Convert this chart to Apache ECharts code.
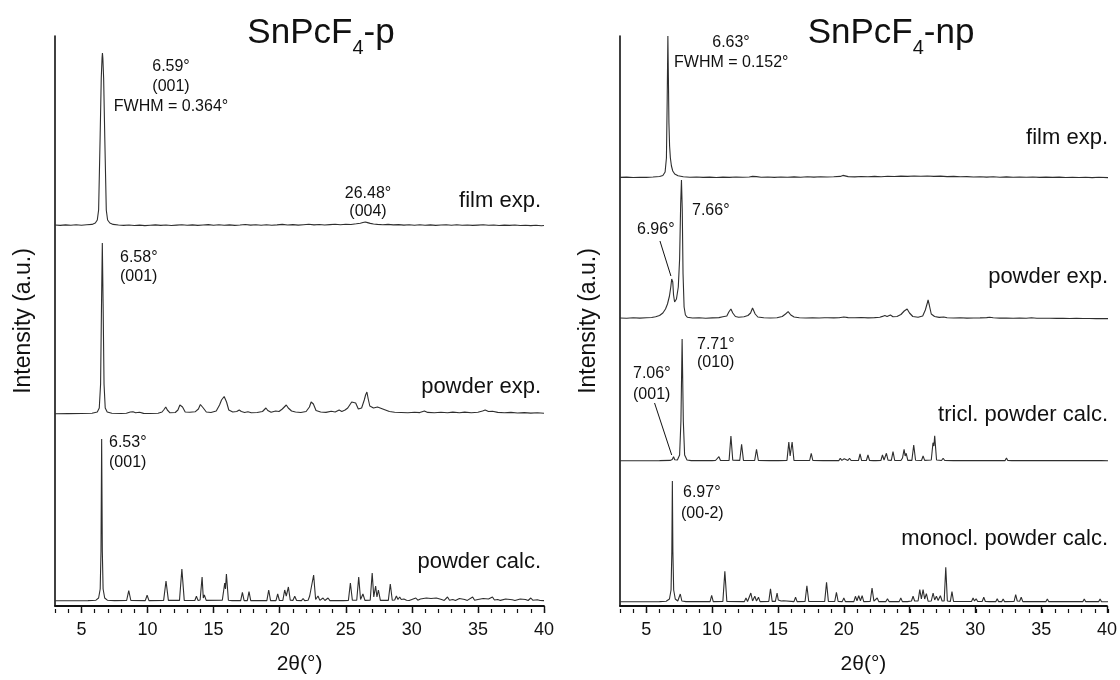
<!DOCTYPE html>
<html>
<head>
<meta charset="utf-8">
<title>SnPcF4 XRD</title>
<script src="https://cdn.jsdelivr.net/npm/echarts@6/dist/echarts.min.js"></script>
<style>
  html, body { margin: 0; padding: 0; background: #fff; }
  #chart { width: 1120px; height: 680px; }
</style>
</head>
<body>
<div id="chart"></div>
<script>
// ---- axis ticks (2θ in degrees) ----
const xMin = 3, xMax = 40;
const majorTicks = [5, 10, 15, 20, 25, 30, 35, 40];
const minorStep = 1;

// ---- SnPcF4-p patterns: [2θ (°), intensity (a.u.)] ----
const pFilmExp = [
  [3.0,1.0],[3.4,0.6],[3.8,1.1],[4.2,0.7],[4.6,1.2],[5.0,0.8],[5.4,1.3],[5.8,1.6],[6.05,3],[6.2,6],
  [6.3,16],[6.41,86],[6.5,148],[6.56,168],[6.59,173],[6.62,168],[6.68,148],[6.77,86],[6.88,16],[6.98,6],
  [7.15,3],[7.4,1.6],[7.8,1.0],[8.2,0.6],[8.6,1.0],[9.0,0.5],[9.4,0.9],[9.8,0.4],[10.2,0.8],[10.6,1.1],
  [11.0,0.6],[11.4,1.0],[11.8,0.5],[12.2,0.9],[12.6,1.3],[13.0,0.7],[13.4,1.1],[13.8,0.6],[14.2,1.0],[14.6,1.4],
  [15.0,0.8],[15.4,1.2],[15.8,0.7],[16.2,1.1],[16.6,0.6],[17.0,1.0],[17.4,1.5],[17.8,0.9],[18.2,1.3],[18.6,0.8],
  [19.0,1.2],[19.4,0.7],[19.8,1.1],[20.2,1.6],[20.6,1.0],[21.0,1.4],[21.4,0.9],[21.8,1.3],[22.2,1.7],[22.6,1.1],
  [23.0,1.5],[23.4,1.0],[23.8,1.4],[24.2,1.8],[24.6,1.3],[25.0,1.7],[25.4,1.5],[25.8,2.2],[26.1,2.8],[26.3,3.5],
  [26.48,4.0],[26.65,3.4],[26.85,2.6],[27.1,2.0],[27.4,1.6],[27.8,1.2],[28.2,1.6],[28.6,1.1],[29.0,1.4],[29.4,0.9],
  [29.8,1.3],[30.2,0.8],[30.6,1.2],[31.0,0.7],[31.4,1.1],[31.8,0.6],[32.2,1.0],[32.6,1.3],[33.0,0.8],[33.4,1.2],
  [33.8,0.7],[34.2,1.0],[34.6,0.6],[35.0,0.9],[35.4,1.2],[35.8,0.7],[36.2,1.0],[36.6,0.5],[37.0,0.9],[37.4,0.6],
  [37.8,1.0],[38.2,0.5],[38.6,0.8],[39.0,0.4],[39.4,0.7],[39.8,0.3],[40.0,0.5]
];

const pPowderExp = [
  [3.0,0.3],[4.0,0.4],[5.0,0.5],[5.8,0.8],[6.2,2],[6.35,6],[6.45,30],[6.52,110],[6.58,171],[6.64,110],
  [6.71,30],[6.8,6],[6.95,2],[7.3,0.8],[8.0,0.5],[8.4,0.8],[8.7,2.0],[8.9,2.3],[9.1,1.2],[9.4,1.8],
  [9.7,0.6],[10.2,0.5],[10.8,0.8],[11.1,2],[11.25,4.5],[11.38,7],[11.5,4],[11.7,1.2],[12.1,1.5],[12.3,4],
  [12.45,9],[12.55,11],[12.65,7],[12.85,2],[13.2,1.8],[13.6,2.2],[13.85,5],[14.0,9.5],[14.1,11],[14.22,6],
  [14.45,2],[14.8,1.5],[15.2,3],[15.45,9],[15.6,14],[15.7,13],[15.8,17.5],[15.88,19],[15.98,12],[16.15,4],
  [16.45,2],[16.75,2.5],[16.94,4],[17.1,2.5],[17.35,1.5],[17.6,2.2],[17.85,1.2],[18.3,1.5],[18.7,2.5],[18.85,4.5],
  [18.96,6],[19.1,3.5],[19.35,1.8],[19.7,3],[19.95,2.5],[20.2,5],[20.35,6.5],[20.5,9],[20.65,6],[20.9,3],
  [21.2,2],[21.6,1.5],[22.0,2.5],[22.25,7],[22.38,12],[22.45,14],[22.55,10],[22.75,3.5],[23.1,2],[23.5,1.6],
  [23.9,2.8],[24.2,2],[24.5,4],[24.7,2.5],[24.95,4],[25.15,6],[25.3,7.5],[25.45,12],[25.6,14],[25.75,11],
  [25.95,5],[26.2,6],[26.4,14],[26.5,19],[26.6,22],[26.7,15],[26.82,8],[26.95,8.5],[27.1,6],[27.25,5.5],
  [27.4,7],[27.55,5],[27.7,5.5],[27.85,7],[28.0,4],[28.3,2.5],[28.7,1.8],[29.2,1.5],[29.7,1.2],[30.2,1.8],
  [30.6,1.4],[30.95,3],[31.2,1.6],[31.7,1.2],[32.2,1.8],[32.7,1.2],[33.1,1.9],[33.6,1.3],[34.0,1.9],[34.5,1.2],
  [35.0,1.8],[35.35,3],[35.55,4],[35.8,2.5],[36.1,2.8],[36.5,1.6],[37.0,1.2],[37.5,1.6],[38.0,1.0],[38.5,1.4],
  [39.0,0.9],[39.5,1.2],[40.0,0.8]
];

const pPowderCalc = [
  [3.0,0.3],[5.5,0.4],[6.1,0.8],[6.3,3],[6.42,12],[6.48,50],[6.53,162],[6.58,50],[6.64,12],[6.76,3],[6.96,0.8],[7.5,0.4],
  [8.42,0.5],[8.58,10.3],[8.74,0.5],[9.83,0.4],[9.97,5.7],[10.11,0.4],
  [11.22,0.6],[11.4,20],[11.58,0.6],[12.42,0.6],[12.6,32],[12.78,0.6],
  [13.58,0.5],[13.7,4.7],[13.82,0.6],[13.98,1],[14.13,24],[14.22,3],[14.3,6],[14.44,0.6],
  [15.66,0.8],[15.8,14],[15.84,18],[15.9,12],[15.97,27],[16.12,0.8],[16.4,0.4],[16.5,1.3],[16.6,0.4],
  [17.05,0.4],[17.18,8.7],[17.31,0.4],[17.55,0.4],[17.68,9.3],[17.81,0.4],[18.4,0.4],[18.5,1],[18.6,0.4],
  [19.03,0.4],[19.17,11],[19.31,0.4],[19.72,0.4],[19.85,7],[19.98,0.5],
  [20.24,0.6],[20.38,11],[20.5,5],[20.66,14],[20.8,0.8],[21.0,0.6],[21.14,4.7],[21.28,0.5],
  [21.65,0.4],[21.77,2.5],[21.89,0.4],[22.15,0.8],[22.27,5],[22.38,3],[22.57,26],[22.72,1.5],[22.9,5],[23.04,0.6],
  [23.15,0.5],[23.28,3],[23.42,0.5],[23.55,0.5],[23.66,3],[23.8,0.4],[24.55,0.4],[24.67,2],[24.8,0.4],
  [25.2,0.6],[25.35,18],[25.5,0.8],[25.83,0.8],[25.98,24],[26.12,1.5],[26.3,7],[26.45,0.6],
  [26.85,0.8],[27.0,28],[27.12,4],[27.26,15],[27.36,4],[27.47,11],[27.62,0.6],
  [28.22,0.6],[28.37,17],[28.52,0.8],[28.7,1],[28.83,5],[28.95,1.5],[29.08,4],[29.2,1.5],[29.4,2],[29.6,0.8],
  [29.8,0.5],[30.0,1.5],[30.15,0.6],[30.3,3],[30.45,0.8],[30.65,2],[30.8,0.7],[31.1,3],[31.25,1],[31.45,2.5],
  [31.6,0.8],[31.85,3],[32.0,1],[32.25,1.5],[32.45,0.6],[32.7,4],[32.85,0.8],[33.1,1.5],[33.3,0.6],[33.6,2.5],
  [33.75,0.7],[34.0,1.5],[34.2,0.6],[34.6,4],[34.75,0.8],[35.0,1.5],[35.15,0.7],[35.4,2.5],[35.55,1],[35.8,2],
  [36.1,4],[36.25,1],[36.5,1.5],[36.7,0.6],[37.1,2],[37.25,0.6],[37.6,1.2],[37.8,0.5],[38.2,2],[38.35,0.6],
  [38.6,1.5],[38.8,0.5],[39.0,3],[39.15,0.8],[39.5,1.2],[39.7,0.5],[40.0,0.4]
];

// ---- SnPcF4-np patterns: [2θ (°), intensity (a.u.)] ----
const npFilmExp = [
  [3.0,0.6],[3.5,0.9],[4.0,0.5],[4.5,0.8],[5.0,0.6],[5.5,1.0],[6.0,1.5],[6.25,2.5],[6.42,6],[6.52,20],
  [6.58,80],[6.63,142],[6.67,100],[6.71,55],[6.76,32],[6.82,20],[6.9,12],[7.0,7],[7.15,4],[7.4,2.2],
  [7.8,1.2],[8.3,0.8],[8.8,1.0],[9.3,0.6],[9.8,0.9],[10.3,0.5],[10.8,0.9],[11.3,0.6],[11.8,1.0],[12.3,0.7],
  [12.8,1.0],[13.05,1.6],[13.2,3],[13.35,1.4],[13.7,0.8],[14.2,1.0],[14.7,0.6],[15.2,1.0],[15.7,0.7],[16.2,1.1],
  [16.7,0.8],[17.2,1.2],[17.7,0.9],[18.2,1.3],[18.7,1.0],[19.2,1.2],[19.7,1.6],[19.9,2.6],[20.05,2.2],[20.3,1.4],
  [20.8,1.1],[21.3,1.5],[21.8,1.2],[22.3,1.6],[22.8,1.3],[23.3,1.7],[23.8,1.5],[24.3,1.9],[24.8,1.6],[25.3,2.0],
  [25.8,1.7],[26.3,2.0],[26.8,1.6],[27.3,1.9],[27.8,1.4],[28.3,1.6],[28.8,1.2],[29.3,1.4],[29.8,1.0],[30.3,1.3],
  [30.8,0.9],[31.3,1.2],[31.8,0.8],[32.3,1.1],[32.8,0.7],[33.3,1.0],[33.8,0.7],[34.3,1.0],[34.8,0.6],[35.3,0.9],
  [35.8,0.6],[36.3,0.9],[36.8,0.5],[37.3,0.8],[37.8,0.5],[38.3,0.8],[38.8,0.4],[39.3,0.7],[40.0,0.4]
];

const npPowderExp = [
  [3.0,1.0],[3.5,0.8],[4.0,1.2],[4.5,0.9],[5.0,1.3],[5.4,1.5],[5.7,2.2],[6.0,3.5],[6.25,6],[6.45,10],
  [6.6,15],[6.75,23],[6.85,32],[6.92,40],[6.96,42],[7.0,37],[7.06,24],[7.14,17],[7.28,20],[7.42,32],
  [7.52,60],[7.6,115],[7.66,139],[7.72,110],[7.78,45],[7.86,12],[7.96,4],[8.1,1.8],[8.5,1.0],[9.0,1.2],
  [9.5,0.8],[10.0,1.1],[10.5,1.4],[10.8,2.2],[10.95,2.8],[11.1,3],[11.25,7],[11.41,10],[11.55,6],[11.75,2.5],
  [12.0,1.8],[12.4,2.2],[12.7,3.5],[12.9,6],[13.05,11],[13.12,12.7],[13.25,5],[13.45,2],[13.9,1.2],[14.4,1.0],
  [14.9,1.3],[15.3,2.5],[15.55,5],[15.75,7.3],[15.95,4],[16.2,2],[16.6,1.3],[17.1,1.0],[17.6,1.2],[18.1,1.0],
  [18.5,1.3],[18.6,2],[18.75,1.2],[19.2,1.1],[19.6,1.3],[19.97,2],[20.3,1.4],[20.8,1.2],[21.3,1.5],[21.8,1.1],
  [22.3,1.4],[22.7,1.8],[22.9,2.6],[23.08,3.5],[23.25,2.5],[23.5,4],[23.7,2.2],[24.0,2.5],[24.3,4.5],[24.55,8],
  [24.77,10],[24.95,6],[25.2,2.5],[25.6,1.8],[25.95,3],[26.15,9],[26.3,16],[26.36,19],[26.45,14],[26.6,5],
  [26.85,2.5],[27.2,1.6],[27.55,2],[27.8,1.2],[28.3,1.0],[28.8,1.2],[29.3,0.9],[29.8,1.0],[30.3,1.1],[30.8,1.4],
  [31.03,1.8],[31.3,1.3],[31.8,0.9],[32.3,1.0],[32.8,0.8],[33.3,0.9],[33.8,0.8],[34.2,1.2],[34.6,0.8],[35.1,0.7],
  [35.6,0.8],[36.1,0.6],[36.6,0.7],[37.1,0.5],[37.6,0.6],[38.1,0.5],[38.6,0.5],[39.1,0.4],[39.6,0.5],[40.0,0.4]
];

const npTriclCalc = [
  [3.0,0.3],[6.0,0.4],[6.8,0.6],[6.96,1.5],[7.06,4.3],[7.15,1.2],[7.35,1],[7.52,6],[7.62,40],[7.71,122],
  [7.8,40],[7.9,6],[8.08,1],[8.4,0.4],
  [9.98,0.4],[10.12,1.7],[10.24,0.5],[10.38,0.5],[10.5,4.3],[10.62,0.5],
  [11.27,0.6],[11.41,25],[11.55,0.7],[12.08,0.6],[12.22,16.7],[12.36,0.6],[13.21,0.5],[13.35,11.7],[13.49,0.5],
  [14.3,0.4],[14.4,1],[14.5,0.4],[14.78,0.4],[14.9,1.7],[15.02,0.4],
  [15.66,0.6],[15.8,19],[15.9,5],[16.05,19],[16.19,0.6],[17.38,0.5],[17.5,7.7],[17.62,0.5],[18.4,0.4],[18.5,1],[18.6,0.4],
  [19.6,0.4],[19.7,2.7],[19.82,0.6],[19.9,0.6],[20.0,2.3],[20.12,0.5],[20.28,0.5],[20.4,2.7],[20.52,0.5],
  [21.08,0.5],[21.2,7],[21.32,0.5],[21.68,0.5],[21.8,6],[21.92,0.5],[22.2,0.4],[22.3,1],[22.4,0.4],
  [22.78,0.5],[22.9,6],[23.02,1],[23.2,7.7],[23.32,0.8],[23.57,0.6],[23.7,9.3],[23.83,0.5],
  [24.3,0.5],[24.42,3],[24.54,11.7],[24.62,5],[24.7,7.7],[24.82,0.6],[25.13,0.6],[25.27,16],[25.41,0.7],
  [25.86,0.5],[25.98,5],[26.1,0.6],[26.6,1],[26.73,18.3],[26.8,15],[26.86,25.3],[27.0,1],
  [27.38,0.5],[27.5,2.7],[27.62,0.5],[28.28,0.4],[28.4,1.7],[28.52,0.4],
  [29.2,0.4],[29.3,1.5],[29.4,0.4],[29.7,0.4],[29.8,1.2],[29.9,0.4],[30.2,0.4],[30.3,1.5],[30.4,0.4],
  [30.8,0.4],[30.9,1.2],[31.0,0.4],[31.2,0.4],[31.3,1.5],[31.4,0.4],[31.7,0.4],[31.8,1.2],[31.9,0.4],
  [32.2,0.4],[32.3,3],[32.4,0.5],[32.7,0.4],[32.8,2],[32.9,0.4],[33.3,0.4],[33.4,1.2],[33.5,0.4],
  [33.9,0.4],[34.0,2],[34.1,0.4],[34.5,0.4],[34.6,1.2],[34.7,0.4],[34.9,0.4],[35.0,1.5],[35.1,0.4],
  [35.6,0.4],[35.7,1],[35.8,0.4],[36.2,0.4],[36.3,1],[36.4,0.4],[36.7,0.4],[36.8,2],[36.9,0.4],
  [37.5,0.4],[37.6,1],[37.7,0.4],[38.2,0.4],[38.3,1.5],[38.4,0.4],[38.9,0.4],[39.0,1],[39.1,0.4],
  [39.3,0.4],[39.4,1],[39.5,0.4],[40.0,0.3]
];

const npMonoclCalc = [
  [3.0,0.3],[6.0,0.4],[6.5,0.8],[6.75,3],[6.87,12],[6.93,50],[6.97,121],[7.01,50],[7.07,12],[7.19,3],
  [7.38,1],[7.45,1],[7.57,8],[7.69,1],[8.0,0.4],
  [9.83,0.4],[9.95,6.7],[10.07,0.4],[10.8,0.6],[10.95,30.7],[11.1,0.6],
  [12.43,0.4],[12.55,4],[12.67,0.5],[12.8,0.5],[12.92,9],[13.05,1],[13.22,5.7],[13.35,1],[13.5,4.7],[13.62,0.4],
  [14.28,0.5],[14.41,13.3],[14.54,0.6],[14.78,0.6],[14.91,9],[15.0,2],[15.1,4],[15.22,1],[15.4,1.3],[15.52,0.4],
  [16.19,0.4],[16.31,4.7],[16.43,0.4],[17.03,0.5],[17.17,16.3],[17.31,0.5],
  [18.52,0.6],[18.66,19.7],[18.8,0.6],[19.28,0.5],[19.41,9.7],[19.54,0.5],[19.85,0.4],[19.97,4],[20.09,0.4],
  [20.73,0.4],[20.85,5.7],[20.97,1.2],[21.1,6.3],[21.23,1.2],[21.36,6.3],[21.48,0.4],
  [21.97,0.5],[22.11,14],[22.25,0.8],[22.5,4],[22.62,0.4],[23.16,0.4],[23.28,3.3],[23.4,0.4],
  [24.17,0.4],[24.29,4],[24.41,0.4],[24.8,0.4],[25.1,1],[25.22,5.7],[25.34,1],[25.6,1],[25.73,12.3],[25.85,3],
  [25.98,12.3],[26.1,3],[26.23,8.3],[26.36,0.8],[26.6,1],[26.74,9],[26.86,2],[26.99,5.7],[27.12,1.5],[27.29,6.3],
  [27.42,1],[27.58,1],[27.7,34.7],[27.82,1],[28.05,0.6],[28.17,10.3],[28.29,0.5],
  [29.65,0.5],[29.77,4],[29.88,1],[30.0,3.3],[30.12,0.5],[30.46,0.5],[30.58,4.7],[30.7,0.5],
  [31.0,0.4],[31.1,2.3],[31.2,0.4],[31.5,0.4],[31.6,3.3],[31.7,0.4],[31.95,0.4],[32.05,3],[32.15,0.4],
  [32.88,0.5],[33.0,7.3],[33.12,1],[33.3,0.8],[33.42,4.7],[33.54,0.4],[34.07,0.4],[34.17,2.3],[34.27,0.4],
  [34.7,0.4],[34.8,2.3],[34.9,0.4],[35.3,0.4],[35.4,3],[35.5,0.4],[36.35,0.4],[36.45,2.3],[36.55,0.4],
  [36.85,0.4],[36.95,2.3],[37.05,0.4],[37.6,0.4],[37.7,2.3],[37.8,0.4],[38.1,0.4],[38.2,3],[38.3,0.4],
  [38.6,0.4],[38.7,2.3],[38.8,0.4],[39.3,0.4],[39.4,3],[39.5,0.4],[40.0,0.3]
];

// ---- layout ----
const FONT = '"Liberation Sans", Arial, Helvetica, sans-serif';
const INK = '#111';
const LINE = '#2e2e2e';
const panels = [
  { left: 55, width: 489 },   // SnPcF4-p
  { left: 620, width: 488 }   // SnPcF4-np
];
const frameTop = 36, frameBottom = 609;

// each trace sits in its own strip: top = apex row, base = zero-intensity row
const traces = [
  { panel: 0, data: pFilmExp,     top: 53,  base: 226, peak: 173 },
  { panel: 0, data: pPowderExp,   top: 243, base: 414, peak: 171 },
  { panel: 0, data: pPowderCalc,  top: 439, base: 601, peak: 162 },
  { panel: 1, data: npFilmExp,    top: 36,  base: 178, peak: 142 },
  { panel: 1, data: npPowderExp,  top: 180, base: 319, peak: 139 },
  { panel: 1, data: npTriclCalc,  top: 339, base: 461, peak: 122 },
  { panel: 1, data: npMonoclCalc, top: 481, base: 602, peak: 121 }
];

const grid = [], xAxis = [], yAxis = [], series = [];

// frame grids: short ticks at every degree underneath, long ticks + labels every 5°
panels.forEach(p => {
  // short ticks every degree
  grid.push({ left: p.left, width: p.width, top: frameTop, height: frameBottom - frameTop });
  xAxis.push({
    type: 'value', gridIndex: grid.length - 1, min: xMin, max: xMax, interval: minorStep,
    axisLine: { show: false, onZero: false },
    axisTick: { show: true, inside: false, length: 4, lineStyle: { color: INK, width: 1.2 } },
    axisLabel: { show: false },
    splitLine: { show: false }
  });
  yAxis.push({ type: 'value', gridIndex: grid.length - 1, min: 0, max: 1, show: false });

  // axis lines, long ticks, labels and names
  grid.push({ left: p.left, width: p.width, top: frameTop, height: frameBottom - frameTop });
  xAxis.push({
    type: 'value', gridIndex: grid.length - 1, min: xMin, max: xMax,
    name: '2θ(°)', nameLocation: 'middle', nameGap: 48,
    nameTextStyle: { fontSize: 21, color: INK, fontFamily: FONT },
    axisLine: { show: true, onZero: false, lineStyle: { color: INK, width: 1.8 } },
    axisTick: { show: true, inside: false, length: 7, customValues: majorTicks, lineStyle: { color: INK, width: 1.4 } },
    axisLabel: { show: true, customValues: majorTicks, margin: 15, fontSize: 18, color: INK, fontFamily: FONT },
    splitLine: { show: false }
  });
  yAxis.push({
    type: 'value', gridIndex: grid.length - 1, min: 0, max: 1,
    name: 'Intensity (a.u.)', nameLocation: 'middle', nameGap: 20, nameRotate: 90,
    nameTextStyle: { fontSize: 23, color: INK, fontFamily: FONT },
    axisLine: { show: true, onZero: false, lineStyle: { color: INK, width: 1.6 } },
    axisTick: { show: false }, axisLabel: { show: false }, splitLine: { show: false }
  });
});

traces.forEach(t => {
  const p = panels[t.panel];
  grid.push({ left: p.left, width: p.width, top: t.top, height: t.base - t.top });
  const gi = grid.length - 1;
  xAxis.push({ type: 'value', gridIndex: gi, min: xMin, max: xMax, show: false });
  yAxis.push({ type: 'value', gridIndex: gi, min: 0, max: t.peak, show: false });
  t.index = series.length;
  series.push({
    type: 'line', xAxisIndex: gi, yAxisIndex: gi, data: t.data,
    showSymbol: false, symbol: 'none', clip: false, silent: true,
    lineStyle: { color: LINE, width: 1.1 }
  });
});

// arrows pointing at the weak low-angle reflections
function arrow(from, to) {
  return {
    silent: true, symbol: ['none', 'arrow'], symbolSize: [0, 11],
    label: { show: false },
    lineStyle: { color: INK, width: 1, type: 'solid' },
    data: [[{ coord: from }, { coord: to }]]
  };
}
series[traces[4].index].markLine = arrow([6.03, 78], [6.86, 43]);
series[traces[5].index].markLine = arrow([5.62, 58], [6.92, 6]);

// ---- text ----
function txt(text, x, y, align, size) {
  return {
    type: 'text', x: x, y: y, silent: true,
    style: {
      text: text, fill: INK, font: size + 'px ' + FONT,
      textAlign: align, textVerticalAlign: 'middle', align: align, verticalAlign: 'middle'
    }
  };
}

const measureCtx = document.createElement('canvas').getContext('2d');
function textWidth(s, size) {
  measureCtx.font = size + 'px ' + FONT;
  return measureCtx.measureText(s).width;
}
// chemical formula with a subscript digit, centred on cx
function formula(main, sub, tail, cx, cy) {
  const big = 35, small = 20;
  const w1 = textWidth(main, big), w2 = textWidth(sub, small), w3 = textWidth(tail, big);
  const x0 = cx - (w1 + w2 + w3) / 2;
  return [
    txt(main, x0, cy, 'left', big),
    txt(sub, x0 + w1, cy + 15, 'left', small),
    txt(tail, x0 + w1 + w2, cy, 'left', big)
  ];
}

const graphic = [].concat(
  formula('SnPcF', '4', '-p', 321, 33),
  formula('SnPcF', '4', '-np', 891, 33),
  [
    // SnPcF4-p
    txt('6.59°', 171, 67, 'center', 16),
    txt('(001)', 171, 87, 'center', 16),
    txt('FWHM = 0.364°', 171, 107, 'center', 16),
    txt('26.48°', 368, 194, 'center', 16),
    txt('(004)', 368, 212, 'center', 16),
    txt('film exp.', 541, 201, 'right', 22),
    txt('6.58°', 120, 258, 'left', 16),
    txt('(001)', 120, 277, 'left', 16),
    txt('powder exp.', 541, 387, 'right', 22),
    txt('6.53°', 109, 443, 'left', 16),
    txt('(001)', 109, 463, 'left', 16),
    txt('powder calc.', 541, 562, 'right', 22),
    // SnPcF4-np
    txt('6.63°', 731, 43, 'center', 16),
    txt('FWHM = 0.152°', 674, 63, 'left', 16),
    txt('film exp.', 1108, 138, 'right', 22),
    txt('7.66°', 692, 211, 'left', 16),
    txt('6.96°', 637, 230, 'left', 16),
    txt('powder exp.', 1108, 277, 'right', 22),
    txt('7.71°', 697, 345, 'left', 16),
    txt('(010)', 697, 363, 'left', 16),
    txt('7.06°', 633, 374, 'left', 16),
    txt('(001)', 633, 395, 'left', 16),
    txt('tricl. powder calc.', 1108, 415, 'right', 22),
    txt('6.97°', 683, 493, 'left', 16),
    txt('(00-2)', 681, 514, 'left', 16),
    txt('monocl. powder calc.', 1108, 539, 'right', 22)
  ]
);

const chart = echarts.init(document.getElementById('chart'), null, { renderer: 'canvas' });
chart.setOption({
  animation: false,
  backgroundColor: '#fff',
  textStyle: { fontFamily: FONT },
  grid: grid,
  xAxis: xAxis,
  yAxis: yAxis,
  series: series,
  graphic: graphic
});
</script>
</body>
</html>
